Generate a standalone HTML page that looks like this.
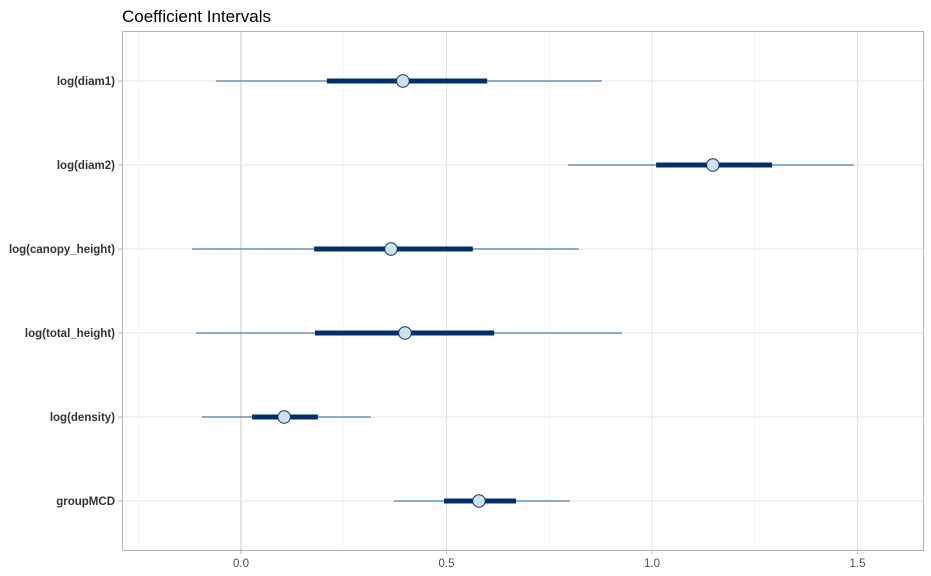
<!DOCTYPE html>
<html><head><meta charset="utf-8"><style>
html,body{margin:0;padding:0;background:#fff;}
svg{display:block;font-family:"Liberation Sans",Arial,sans-serif;}
</style></head><body>
<svg id="chart" width="931" height="576" viewBox="0 0 931 576" xmlns="http://www.w3.org/2000/svg">
<text x="122" y="22" font-size="17" fill="#000">Coefficient Intervals</text>
<g id="grid"></g>
<g id="marks"></g>
<rect x="122.5" y="31.5" width="801" height="519" fill="none" stroke="#b3b3b3" stroke-width="1"/>
<g id="axes"></g>
</svg>
<script>
const categories=["log(diam1)","log(diam2)","log(canopy_height)","log(total_height)","log(density)","groupMCD"];
const outerLow=[-0.061,0.796,-0.119,-0.109,-0.095,0.372];
const outerHigh=[0.878,1.491,0.822,0.927,0.316,0.800];
const innerLow=[0.209,1.010,0.178,0.180,0.027,0.494];
const innerHigh=[0.599,1.292,0.564,0.616,0.187,0.669];
const estimates=[0.394,1.148,0.365,0.399,0.105,0.579];
const xTicks=[0,0.5,1.0,1.5];
const xTickLabels=["0.0","0.5","1.0","1.5"];
const xMinor=[-0.25,0.25,0.75,1.25];

const NS="http://www.w3.org/2000/svg";
const x=v=>241+v*411;
const y=i=>81+i*84;
function mk(tag,attrs,parent){const e=document.createElementNS(NS,tag);for(const k in attrs)e.setAttribute(k,attrs[k]);document.getElementById(parent).appendChild(e);return e;}
xMinor.forEach(v=>{const l=mk('line',{x1:x(v),x2:x(v),y1:31,y2:550,stroke:'#f0f0f0','stroke-width':0.6},'grid');

});
xTicks.forEach((v,i)=>{const l=mk('line',{x1:x(v),x2:x(v),y1:31,y2:550,stroke:v===0?'#d4d4d4':'#e6e6e6','stroke-width':v===0?1.3:1},'grid');


const t=mk('line',{x1:x(v),x2:x(v),y1:550.5,y2:554,stroke:'#b3b3b3'},'axes');


const tx=mk('text',{x:x(v),y:567,'text-anchor':'middle','font-size':11.5,fill:'#4d4d4d'},'axes');
tx.textContent=xTickLabels[i];

});
categories.forEach((c,i)=>{const g=mk('line',{x1:122,x2:924,y1:y(i),y2:y(i),stroke:'#e6e6e6'},'grid');


const t=mk('line',{x1:118,x2:122,y1:y(i),y2:y(i),stroke:'#b3b3b3'},'axes');


const tx=mk('text',{x:115,y:y(i)+4,'text-anchor':'end','font-size':11.5,'font-weight':'bold',fill:'#333'},'axes');
tx.textContent=c;


const o=mk('line',{x1:x(outerLow[i]),x2:x(outerHigh[i]),y1:y(i),y2:y(i),stroke:'#6a8fa8','stroke-width':1.4},'marks');


const n=mk('line',{x1:x(innerLow[i]),x2:x(innerHigh[i]),y1:y(i),y2:y(i),stroke:'#03306b','stroke-width':5},'marks');


const p=mk('circle',{cx:x(estimates[i]),cy:y(i),r:6.3,fill:'#d1e1ec',stroke:'#03306b','stroke-width':1},'marks');

});
</script>
</body></html>
